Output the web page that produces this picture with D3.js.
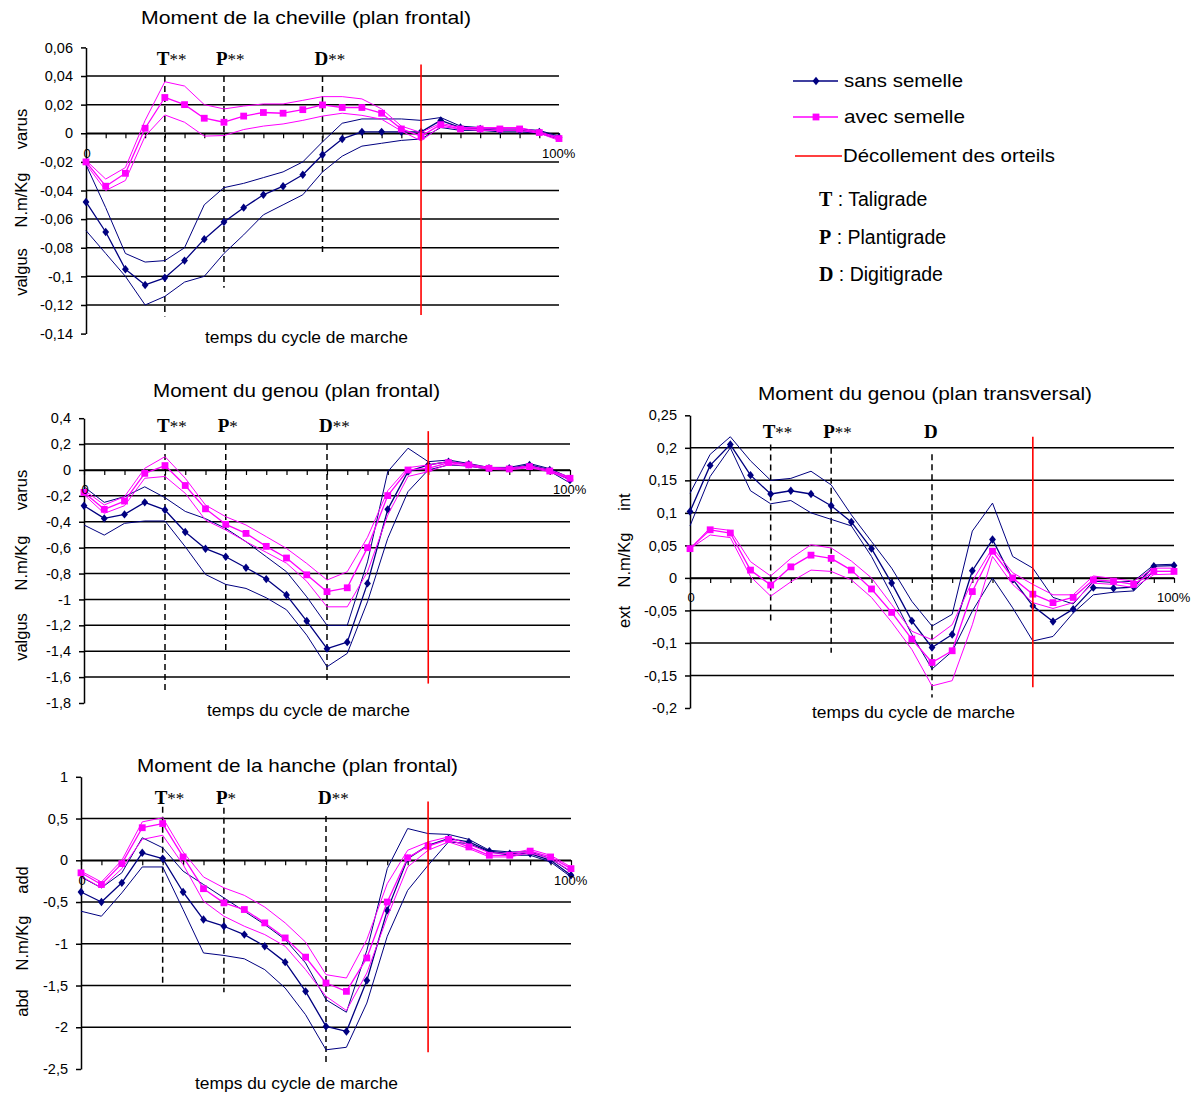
<!DOCTYPE html>
<html>
<head>
<meta charset="utf-8">
<script src="https://cdn.jsdelivr.net/npm/d3@7"></script>
<style>
  body { margin: 0; background: #fff; }
  svg text { font-family: Arial, "Liberation Sans", sans-serif; fill: #000; }
</style>
</head>
<body>
<svg id="chart" width="1197" height="1095"></svg>
<script>
// 25 samples over the gait cycle (0 .. 100%)
var nPts = 25;
var phaseNames = ["T", "P", "D"];
var phaseIdx = [4, 7, 12];
var toeOffIdx = 17;

// ---- ankle, frontal plane
var ankleTicks = [0.06, 0.04, 0.02, 0, -0.02, -0.04, -0.06, -0.08, -0.1, -0.12, -0.14];
var ankleStars = ["**", "**", "**"];
var ankleSansMean = [-0.048,-0.069,-0.095,-0.106,-0.101,-0.089,-0.074,-0.062,-0.052,-0.043,-0.037,-0.029,-0.015,-0.004,0.001,0.001,0.001,0.001,0.009,0.004,0.003,0.002,0.002,0.001,-0.003];
var ankleSansHi = [-0.022,-0.052,-0.084,-0.09,-0.089,-0.08,-0.05,-0.038,-0.035,-0.031,-0.027,-0.02,-0.006,0.007,0.01,0.01,0.01,0.009,0.011,0.005,0.004,0.003,0.003,0.002,-0.002];
var ankleSansLo = [-0.068,-0.084,-0.1,-0.12,-0.114,-0.104,-0.1,-0.084,-0.071,-0.057,-0.05,-0.043,-0.027,-0.016,-0.009,-0.007,-0.005,-0.004,0.004,0.002,0.002,0.001,0.001,0,-0.004];
var ankleAvecMean = [-0.02,-0.037,-0.028,0.0035,0.025,0.02,0.0105,0.0077,0.012,0.0145,0.014,0.0165,0.0198,0.018,0.018,0.014,0.003,-0.002,0.006,0.003,0.003,0.003,0.003,0.0005,-0.0037];
var ankleAvecHi = [-0.019,-0.032,-0.024,0.009,0.036,0.033,0.02,0.017,0.019,0.0205,0.0205,0.023,0.0256,0.0256,0.024,0.017,0.005,0.0005,0.007,0.004,0.004,0.004,0.004,0.001,-0.003];
var ankleAvecLo = [-0.0215,-0.04,-0.033,-0.002,0.0128,0.0077,-0.002,-0.0016,0.0026,0.005,0.0065,0.009,0.012,0.014,0.0125,0.0098,0.0016,-0.0053,0.0047,0.003,0.002,0.002,0.002,0,-0.005];

// ---- knee, frontal plane
var kneeFTicks = [0.4, 0.2, 0, -0.2, -0.4, -0.6, -0.8, -1, -1.2, -1.4, -1.6, -1.8];
var kneeFStars = ["**", "*", "**"];
var kneeFSansMean = [-0.276,-0.374,-0.343,-0.25,-0.309,-0.479,-0.608,-0.67,-0.755,-0.843,-0.966,-1.167,-1.38,-1.33,-0.876,-0.304,-0.013,0.039,0.064,0.044,0.013,0.013,0.039,0,-0.077];
var kneeFSansHi = [-0.13,-0.25,-0.206,-0.13,-0.214,-0.32,-0.376,-0.451,-0.554,-0.67,-0.786,-0.98,-1.2,-1.2,-0.71,-0.013,0.168,0.064,0.077,0.05,0.02,0.02,0.05,0.01,-0.06];
var kneeFSansLo = [-0.425,-0.503,-0.412,-0.394,-0.394,-0.593,-0.807,-0.884,-0.915,-0.987,-1.08,-1.276,-1.52,-1.417,-1.018,-0.528,-0.167,0,0.039,0.03,0.005,0.005,0.03,-0.01,-0.1];
var kneeFAvecMean = [-0.173,-0.304,-0.24,-0.026,0.034,-0.12,-0.3,-0.42,-0.49,-0.59,-0.68,-0.81,-0.94,-0.91,-0.6,-0.198,0,0.013,0.057,0.039,0.013,0.008,0.026,-0.008,-0.064];
var kneeFAvecHi = [-0.155,-0.27,-0.206,0.013,0.103,-0.064,-0.271,-0.361,-0.425,-0.515,-0.606,-0.722,-0.85,-0.786,-0.52,-0.16,0.018,0.039,0.065,0.045,0.02,0.015,0.032,0,-0.055];
var kneeFAvecLo = [-0.19,-0.335,-0.276,-0.064,-0.05,-0.18,-0.387,-0.464,-0.554,-0.636,-0.72,-0.86,-1.057,-1.057,-0.786,-0.348,-0.05,-0.013,0.045,0.03,0.005,0,0.018,-0.015,-0.075];

// ---- knee, transverse plane
var kneeTTicks = [0.25, 0.2, 0.15, 0.1, 0.05, 0, -0.05, -0.1, -0.15, -0.2];
var kneeTStars = ["**", "**", ""];
var kneeTSansMean = [0.102,0.173,0.205,0.158,0.129,0.134,0.129,0.111,0.086,0.045,-0.008,-0.066,-0.107,-0.087,0.011,0.059,-0.002,-0.043,-0.067,-0.048,-0.015,-0.016,-0.014,0.018,0.019];
var kneeTSansHi = [0.13,0.19,0.217,0.18,0.15,0.153,0.164,0.143,0.097,0.056,0.015,-0.036,-0.074,-0.056,0.072,0.115,0.033,0.015,-0.03,-0.04,-0.005,-0.007,-0.005,0.02,0.021];
var kneeTSansLo = [0.08,0.156,0.2,0.134,0.114,0.119,0.1,0.09,0.08,0.033,-0.026,-0.087,-0.14,-0.113,-0.051,0,-0.046,-0.097,-0.09,-0.054,-0.026,-0.022,-0.02,0.01,0.01];
var kneeTAvecMean = [0.045,0.074,0.069,0.012,-0.011,0.017,0.035,0.03,0.012,-0.017,-0.053,-0.094,-0.13,-0.112,-0.021,0.041,0,-0.025,-0.038,-0.03,-0.003,-0.005,-0.01,0.01,0.01];
var kneeTAvecHi = [0.045,0.077,0.073,0.025,0.003,0.03,0.051,0.046,0.026,0,-0.041,-0.082,-0.095,-0.072,-0.005,0.046,0.008,-0.01,-0.026,-0.026,0.003,-0.001,-0.005,0.015,0.015];
var kneeTAvecLo = [0.045,0.066,0.062,0.002,-0.028,-0.006,0.012,0.01,-0.003,-0.03,-0.068,-0.11,-0.166,-0.158,-0.072,0.033,-0.01,-0.038,-0.047,-0.038,-0.008,-0.01,-0.015,0.005,0.006];

// ---- hip, frontal plane
var hipTicks = [1, 0.5, 0, -0.5, -1, -1.5, -2, -2.5];
var hipStars = ["**", "*", "**"];
var hipSansMean = [-0.38,-0.5,-0.27,0.09,0.02,-0.38,-0.71,-0.79,-0.89,-1.03,-1.22,-1.57,-1.99,-2.05,-1.44,-0.6,0.02,0.18,0.26,0.22,0.11,0.08,0.08,0,-0.18];
var hipSansHi = [-0.2,-0.33,-0.15,0.27,0.15,-0.13,-0.29,-0.45,-0.61,-0.77,-0.95,-1.23,-1.67,-1.82,-1.08,-0.1,0.38,0.32,0.31,0.25,0.12,0.1,0.1,0.02,-0.14];
var hipSansLo = [-0.61,-0.67,-0.39,-0.08,-0.08,-0.59,-1.11,-1.14,-1.18,-1.31,-1.53,-1.85,-2.27,-2.24,-1.71,-0.91,-0.36,-0.06,0.22,0.2,0.1,0.06,0.06,-0.02,-0.2];
var hipAvecMean = [-0.15,-0.29,-0.04,0.39,0.44,0.04,-0.34,-0.51,-0.59,-0.75,-0.93,-1.16,-1.47,-1.57,-1.17,-0.5,0.03,0.17,0.25,0.16,0.06,0.06,0.11,0.04,-0.1];
var hipAvecHi = [-0.13,-0.26,0,0.46,0.51,0.1,-0.2,-0.33,-0.42,-0.56,-0.75,-0.98,-1.37,-1.41,-0.95,-0.28,0.12,0.22,0.28,0.19,0.09,0.08,0.13,0.06,-0.08];
var hipAvecLo = [-0.19,-0.33,-0.1,0.25,0.3,-0.05,-0.49,-0.67,-0.79,-0.89,-1.03,-1.31,-1.63,-1.8,-1.35,-0.68,-0.08,0.12,0.22,0.14,0.04,0.04,0.09,0.02,-0.13];

var blue = "#000080", pink = "#ff00ff", red = "#ff0000";

// french decimal comma
var fr = d3.formatLocale({decimal: ",", thousands: " ", grouping: [3], currency: ["", " €"], minus: "-"}).format("~g");

var svg = d3.select("#chart");
svg.append("rect").attr("width", 1197).attr("height", 1095).attr("fill", "#fff");

function addText(x, y, str, size, len) {
    var t = svg.append("text")
        .attr("x", x).attr("y", y)
        .attr("font-size", size)
        .text(str);
    if (len) t.attr("textLength", len).attr("lengthAdjust", "spacingAndGlyphs");
    return t;
}

function vText(x, y, str, size) {
    svg.append("text")
        .attr("transform", "translate(" + x + "," + y + ") rotate(-90)")
        .attr("text-anchor", "middle")
        .attr("font-size", size)
        .text(str);
}

function drawSeries(g, x, y, vals, color, width, marker) {
    var line = d3.line().x(function(d, i) { return x(i); }).y(function(d) { return y(d); });
    g.append("path")
        .attr("d", line(vals))
        .attr("fill", "none")
        .attr("stroke", color)
        .attr("stroke-width", width)
        .attr("stroke-linejoin", "round");
    if (!marker) return;
    var m = g.append("g").selectAll("path").data(vals).enter().append("path")
        .attr("transform", function(d, i) { return "translate(" + x(i) + "," + y(d) + ")"; })
        .attr("fill", color);
    if (marker == "diamond") m.attr("d", "M0,-4.2L3.4,0L0,4.2L-3.4,0Z");
    else m.attr("d", "M-3.4,-3.4H3.4V3.4H-3.4Z");
}

function drawPanel(p) {
    var x = d3.scaleLinear().domain([0, nPts - 1]).range([p.x0, p.x1]);
    var y = d3.scaleLinear().domain([p.ticks[p.ticks.length - 1], p.ticks[0]]).range([p.yBot, p.yTop]);
    var g = svg.append("g");

    // horizontal grid lines (not on first / last tick)
    g.selectAll(".grid")
        .data(p.ticks.slice(1, -1))
        .enter().append("line")
        .attr("x1", p.x0).attr("x2", p.x1)
        .attr("y1", function(d) { return y(d); })
        .attr("y2", function(d) { return y(d); })
        .attr("stroke", "#000")
        .attr("stroke-width", 1.5);

    // y axis
    var yAxis = g.append("g")
        .attr("transform", "translate(" + p.x0 + ",0)")
        .call(d3.axisLeft(y).tickValues(p.ticks).tickSize(5).tickSizeOuter(0).tickPadding(8).tickFormat(fr));
    yAxis.select(".domain").attr("stroke-width", 1.5);
    yAxis.selectAll(".tick line").attr("stroke-width", 1.5);
    yAxis.selectAll("text")
        .attr("font-size", 14.5)
        .attr("font-family", "Arial, 'Liberation Sans', sans-serif");

    // category axis crossing at 0
    var xAxis = g.append("g")
        .attr("transform", "translate(0," + y(0) + ")")
        .call(d3.axisBottom(x).tickValues(d3.range(nPts)).tickSize(5).tickSizeOuter(0).tickFormat(""));
    xAxis.select(".domain").attr("stroke-width", 1.5);
    xAxis.selectAll(".tick line").attr("stroke-width", 1.2);

    addText(x(0) + 1, y(0) + 24.5, "0", 13).attr("text-anchor", "middle");
    addText(x(nPts - 1) - 17, y(0) + 24.5, "100%", 13);

    // phase markers
    phaseIdx.forEach(function(idx, k) {
        g.append("line")
            .attr("x1", x(idx)).attr("x2", x(idx))
            .attr("y1", y(p.phaseTop[k])).attr("y2", y(p.phaseBot[k]))
            .attr("stroke", "#000")
            .attr("stroke-width", 1.5)
            .attr("stroke-dasharray", "6,4");
        var t = svg.append("text")
            .attr("x", x(idx) - 8)
            .attr("y", p.labelY);
        t.append("tspan")
            .attr("font-family", "'Liberation Serif', 'Times New Roman', serif")
            .attr("font-weight", "bold")
            .attr("font-size", 19)
            .text(phaseNames[k]);
        t.append("tspan")
            .attr("font-family", "'Liberation Serif', 'Times New Roman', serif")
            .attr("font-size", 17)
            .text(p.stars[k]);
    });

    // series: sans semelle then avec semelle
    drawSeries(g, x, y, p.sansHi, blue, 1, null);
    drawSeries(g, x, y, p.sansLo, blue, 1, null);
    drawSeries(g, x, y, p.sansMean, blue, 1.3, "diamond");
    drawSeries(g, x, y, p.avecHi, pink, 1, null);
    drawSeries(g, x, y, p.avecLo, pink, 1, null);
    drawSeries(g, x, y, p.avecMean, pink, 1.3, "square");

    // toe off
    g.append("line")
        .attr("x1", x(toeOffIdx)).attr("x2", x(toeOffIdx))
        .attr("y1", y(p.redTop)).attr("y2", y(p.redBot))
        .attr("stroke", red)
        .attr("stroke-width", 1.6);

    addText(p.title[0], p.title[1], p.title[2], 19, p.title[3]);
    addText(p.xTitle[0], p.xTitle[1], "temps du cycle de marche", 16, 203);
    p.yTitle.forEach(function(d) { vText(p.yTitleX, d[1], d[0], 16.5); });
}

drawPanel({
    ticks: ankleTicks, stars: ankleStars,
    x0: 86, x1: 559, yTop: 47.4, yBot: 333.6,
    sansMean: ankleSansMean, sansHi: ankleSansHi, sansLo: ankleSansLo,
    avecMean: ankleAvecMean, avecHi: ankleAvecHi, avecLo: ankleAvecLo,
    phaseTop: [0.04, 0.04, 0.04], phaseBot: [-0.128, -0.108, -0.084], labelY: 65,
    redTop: 0.048, redBot: -0.127,
    title: [141, 24, "Moment de la cheville (plan frontal)", 330],
    xTitle: [205, 343],
    yTitleX: 27, yTitle: [["varus", 129], ["N.m/Kg", 200], ["valgus", 272]]
});

drawPanel({
    ticks: kneeFTicks, stars: kneeFStars,
    x0: 84, x1: 570, yTop: 418.2, yBot: 703,
    sansMean: kneeFSansMean, sansHi: kneeFSansHi, sansLo: kneeFSansLo,
    avecMean: kneeFAvecMean, avecHi: kneeFAvecHi, avecLo: kneeFAvecLo,
    phaseTop: [0.2, 0.2, 0.2], phaseBot: [-1.7, -1.41, -1.65], labelY: 432,
    redTop: 0.3, redBot: -1.65,
    title: [153, 397, "Moment du genou (plan frontal)", 287],
    xTitle: [207, 716],
    yTitleX: 27, yTitle: [["varus", 490], ["N.m/Kg", 563], ["valgus", 637]]
});

drawPanel({
    ticks: kneeTTicks, stars: kneeTStars,
    x0: 690, x1: 1174, yTop: 415.3, yBot: 708,
    sansMean: kneeTSansMean, sansHi: kneeTSansHi, sansLo: kneeTSansLo,
    avecMean: kneeTAvecMean, avecHi: kneeTAvecHi, avecLo: kneeTAvecLo,
    phaseTop: [0.205, 0.2, 0.19], phaseBot: [-0.067, -0.115, -0.184], labelY: 438,
    redTop: 0.217, redBot: -0.168,
    title: [758, 400, "Moment du genou (plan transversal)", 334],
    xTitle: [812, 718],
    yTitleX: 630, yTitle: [["int", 502], ["N.m/Kg", 560], ["ext", 617]]
});

drawPanel({
    ticks: hipTicks, stars: hipStars,
    x0: 81, x1: 571, yTop: 776.8, yBot: 1069,
    sansMean: hipSansMean, sansHi: hipSansHi, sansLo: hipSansLo,
    avecMean: hipAvecMean, avecHi: hipAvecHi, avecLo: hipAvecLo,
    phaseTop: [0.64, 0.63, 0.53], phaseBot: [-1.51, -1.58, -2.43], labelY: 804,
    redTop: 0.705, redBot: -2.3,
    title: [137, 772, "Moment de la hanche (plan frontal)", 321],
    xTitle: [195, 1089],
    yTitleX: 28, yTitle: [["add", 880], ["N.m/Kg", 943], ["abd", 1003]]
});

// ---- legend
var leg = svg.append("g");
leg.append("line").attr("x1", 793).attr("x2", 838).attr("y1", 81).attr("y2", 81).attr("stroke", blue).attr("stroke-width", 1.3);
leg.append("path").attr("transform", "translate(816,81)").attr("d", "M0,-4.2L3.4,0L0,4.2L-3.4,0Z").attr("fill", blue);
addText(844, 87, "sans semelle", 19, 119);
leg.append("line").attr("x1", 793).attr("x2", 838).attr("y1", 117).attr("y2", 117).attr("stroke", pink).attr("stroke-width", 1.3);
leg.append("path").attr("transform", "translate(816,117)").attr("d", "M-3.4,-3.4H3.4V3.4H-3.4Z").attr("fill", pink);
addText(844, 123, "avec semelle", 19, 121);
leg.append("line").attr("x1", 795).attr("x2", 842).attr("y1", 156).attr("y2", 156).attr("stroke", red).attr("stroke-width", 1.6);
addText(843, 162, "Décollement des orteils", 19, 212);

var phaseLegend = [["T", " : Taligrade", 206], ["P", " : Plantigrade", 244], ["D", " : Digitigrade", 281]];
phaseLegend.forEach(function(d) {
    var t = svg.append("text").attr("x", 819).attr("y", d[2]);
    t.append("tspan")
        .attr("font-family", "'Liberation Serif', 'Times New Roman', serif")
        .attr("font-weight", "bold")
        .attr("font-size", 20)
        .text(d[0]);
    t.append("tspan").attr("font-size", 19.5).text(d[1]);
});
</script>
</body>
</html>
